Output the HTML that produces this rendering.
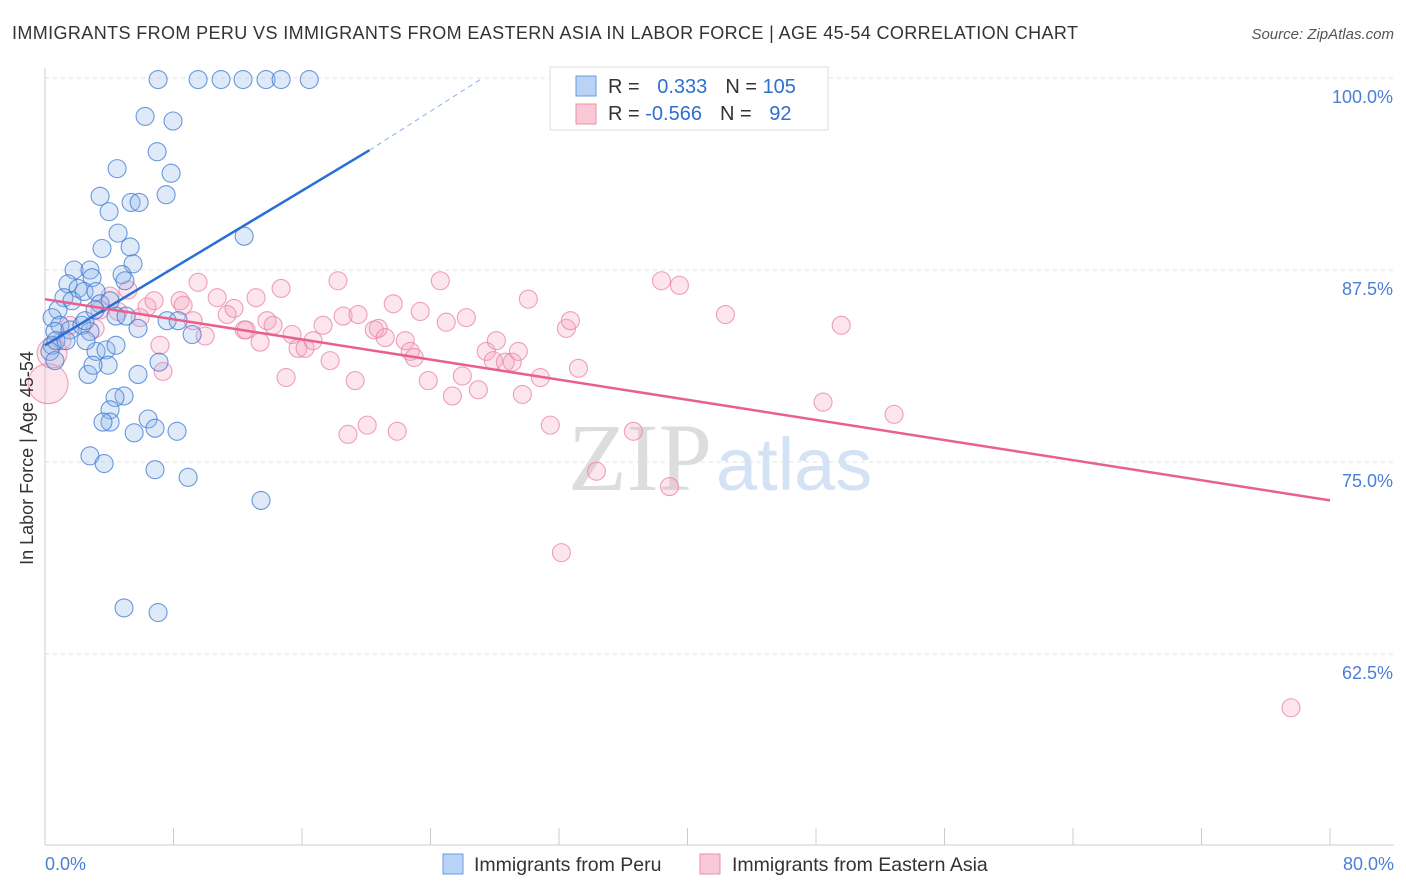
<!DOCTYPE html>
<html><head><meta charset="utf-8"><style>
body{margin:0;background:#fff;font-family:"Liberation Sans",sans-serif;}
svg{display:block}
</style></head><body>
<svg width="1406" height="892" xmlns="http://www.w3.org/2000/svg">
<text x="12" y="39" font-size="18" fill="#333" textLength="1066">IMMIGRANTS FROM PERU VS IMMIGRANTS FROM EASTERN ASIA IN LABOR FORCE | AGE 45-54 CORRELATION CHART</text>
<text x="1394" y="39" font-size="15" fill="#555" font-style="italic" text-anchor="end">Source: ZipAtlas.com</text>
<g id="grid"></g>
<text x="712" y="490" font-size="96" fill="#ddd" text-anchor="end" font-family="Liberation Serif,serif">ZIP</text>
<text x="716" y="490" font-size="74" fill="#d4e2f5">atlas</text>
<g id="pts"></g>
<g id="lines"></g>
<text x="33" y="458" font-size="18" fill="#333" text-anchor="middle" transform="rotate(-90 33 458)">In Labor Force | Age 45-54</text>
<text x="45" y="870" font-size="18" fill="#4a7fd4">0.0%</text>
<text x="1394" y="870" font-size="18" fill="#4a7fd4" text-anchor="end">80.0%</text>
<g>
<rect x="550" y="67" width="278" height="63" fill="#fff" stroke="#ddd"/>
<rect x="576" y="76" width="20" height="20" fill="#b8d3f5" stroke="#6a9be0"/>
<rect x="576" y="104" width="20" height="20" fill="#f9c9d7" stroke="#ea8fab"/>
<text x="608" y="93" font-size="20" fill="#333">R = <tspan fill="#2f6fd0" dx="12">0.333</tspan><tspan dx="18" fill="#333">N = </tspan><tspan fill="#2f6fd0">105</tspan></text>
<text x="608" y="120" font-size="20" fill="#333">R = <tspan fill="#2f6fd0">-0.566</tspan><tspan dx="18" fill="#333">N = </tspan><tspan fill="#2f6fd0" dx="12">92</tspan></text>
</g>
<g>
<rect x="443" y="854" width="20" height="20" fill="#b8d3f5" stroke="#6a9be0"/>
<text x="474" y="871" font-size="19.5" fill="#333">Immigrants from Peru</text>
<rect x="700" y="854" width="20" height="20" fill="#f9c9d7" stroke="#ea8fab"/>
<text x="732" y="871" font-size="19.5" fill="#333">Immigrants from Eastern Asia</text>
</g>
</svg>
<script>
const yTicks=[100,87.5,75,62.5];
const yTickLabels=["100.0%","87.5%","75.0%","62.5%"];
const xTicks=[0,8,16,24,32,40,48,56,64,72,80];
const peruX=[7.04,9.53,10.96,12.33,13.76,14.70,16.45,6.23,7.97,6.98,7.85,4.49,3.43,3.99,5.36,5.86,7.54,4.55,3.55,5.30,5.48,12.40,1.81,2.80,2.93,4.80,4.98,1.43,2.06,1.18,1.68,2.43,3.18,3.43,0.81,0.44,0.93,0.62,1.56,2.30,2.80,0.44,0.31,0.62,2.68,3.18,3.80,4.42,3.93,2.99,2.55,4.42,5.05,5.79,7.60,8.29,9.16,7.10,5.79,4.92,4.36,4.05,4.05,3.61,5.55,6.42,6.85,8.22,2.80,3.68,6.85,8.91,13.45,4.92,7.04,2.49,3.12,4.05,0.68,1.31];
const peruY=[99.9,99.9,99.9,99.9,99.9,99.9,99.9,97.5,97.2,95.2,93.8,94.1,92.3,91.3,91.9,91.9,92.4,89.9,88.9,89.0,87.9,89.7,87.5,87.5,87.0,87.2,86.8,86.6,86.3,85.7,85.5,86.1,86.1,85.3,84.9,84.4,83.9,83.5,83.6,83.9,83.5,82.6,82.2,81.6,80.7,82.2,82.3,82.6,81.3,81.3,82.9,84.5,84.5,83.7,84.2,84.2,83.3,81.5,80.7,79.3,79.2,78.4,77.6,77.6,76.9,77.8,77.2,77.0,75.4,74.9,74.5,74.0,72.5,65.5,65.2,84.2,84.9,85.5,82.9,82.9];
const asiaX=[0.19,0.44,1.56,3.12,3.43,4.55,5.17,6.35,6.79,7.16,7.35,8.41,8.60,9.53,9.97,9.22,10.72,11.34,11.77,12.40,12.52,13.14,13.39,13.82,14.20,14.70,15.01,15.38,15.75,16.19,16.69,17.31,17.75,18.24,18.56,19.31,19.49,18.86,20.06,20.50,20.75,21.18,21.68,21.93,22.43,22.74,22.99,23.36,23.86,24.61,24.98,25.36,25.98,26.23,26.98,27.47,28.10,27.91,28.66,29.09,29.47,29.72,30.09,30.84,31.46,32.15,32.46,32.71,33.21,34.33,36.63,38.38,38.88,39.50,42.36,48.44,49.57,52.86,77.57,4.05,5.92,1.06];
const asiaY=[80.1,82.1,83.9,83.7,84.9,84.8,86.2,85.1,85.5,82.6,80.9,85.5,85.2,86.7,83.2,84.2,85.7,84.6,85.0,83.6,83.6,85.7,82.8,84.2,83.9,86.3,80.5,83.3,82.4,82.4,82.9,83.9,81.6,86.8,84.5,80.3,84.6,76.8,77.4,83.6,83.7,83.1,85.3,77.0,82.9,82.2,81.8,84.8,80.3,86.8,84.1,79.3,80.6,84.4,79.7,82.2,82.9,81.6,81.5,81.5,82.2,79.4,85.6,80.5,77.4,69.1,83.7,84.2,81.1,74.4,77.0,86.8,73.4,86.5,84.6,78.9,83.9,78.1,59.0,85.8,84.4,82.9];
const asiaR=[20,15];
const peruTrend=[[0,82.6],[20.2,95.3],[27.1,99.9]];
const asiaTrend=[[0,85.6],[80,72.5]];
const X=v=>45+v/80*1285, Y=v=>78+(100-v)/12.5*192;
const NS="http://www.w3.org/2000/svg";
function mk(p,t,a){const e=document.createElementNS(NS,t);for(const k in a)e.setAttribute(k,a[k]);p.appendChild(e);return e;}
const g=document.getElementById('grid');
mk(g,'line',{x1:45,y1:68,x2:45,y2:845,stroke:'#ccc'});
mk(g,'line',{x1:45,y1:845,x2:1394,y2:845,stroke:'#ccc'});
yTicks.forEach((t,i)=>{
 const l=mk(g,'line',{x1:45,y1:Y(t),x2:1394,y2:Y(t),stroke:'#e2e2e2','stroke-dasharray':'4 4'});
 
 
 const tx=mk(g,'text',{x:1393,y:Y(t)+25,'font-size':18,fill:'#4a7fd4','text-anchor':'end'});
 tx.textContent=yTickLabels[i];
 
 
});
xTicks.forEach(t=>{
 const l=mk(g,'line',{x1:X(t),y1:828,x2:X(t),y2:845,stroke:'#ccc'});
 
 
});
const p=document.getElementById('pts');
asiaX.forEach((x,i)=>{
 const c=mk(p,'circle',{cx:X(x),cy:Y(asiaY[i]),r:asiaR[i]||9,fill:'rgba(244,160,186,0.28)',stroke:'rgba(234,130,165,0.75)','stroke-width':1.1});
 
 
});
peruX.forEach((x,i)=>{
 const c=mk(p,'circle',{cx:X(x),cy:Y(peruY[i]),r:9,fill:'rgba(140,180,235,0.28)',stroke:'rgba(60,120,210,0.75)','stroke-width':1.1});
 
 
});
const L=document.getElementById('lines');
let a=mk(L,'line',{x1:X(peruTrend[0][0]),y1:Y(peruTrend[0][1]),x2:X(peruTrend[1][0]),y2:Y(peruTrend[1][1]),stroke:'#2a6fd6','stroke-width':2.5});


a=mk(L,'line',{x1:X(peruTrend[1][0]),y1:Y(peruTrend[1][1]),x2:X(peruTrend[2][0]),y2:Y(peruTrend[2][1]),stroke:'#8ab0e8','stroke-width':1,'stroke-dasharray':'5 4'});


a=mk(L,'line',{x1:X(asiaTrend[0][0]),y1:Y(asiaTrend[0][1]),x2:X(asiaTrend[1][0]),y2:Y(asiaTrend[1][1]),stroke:'#e8608e','stroke-width':2.5});


</script>
</body></html>
